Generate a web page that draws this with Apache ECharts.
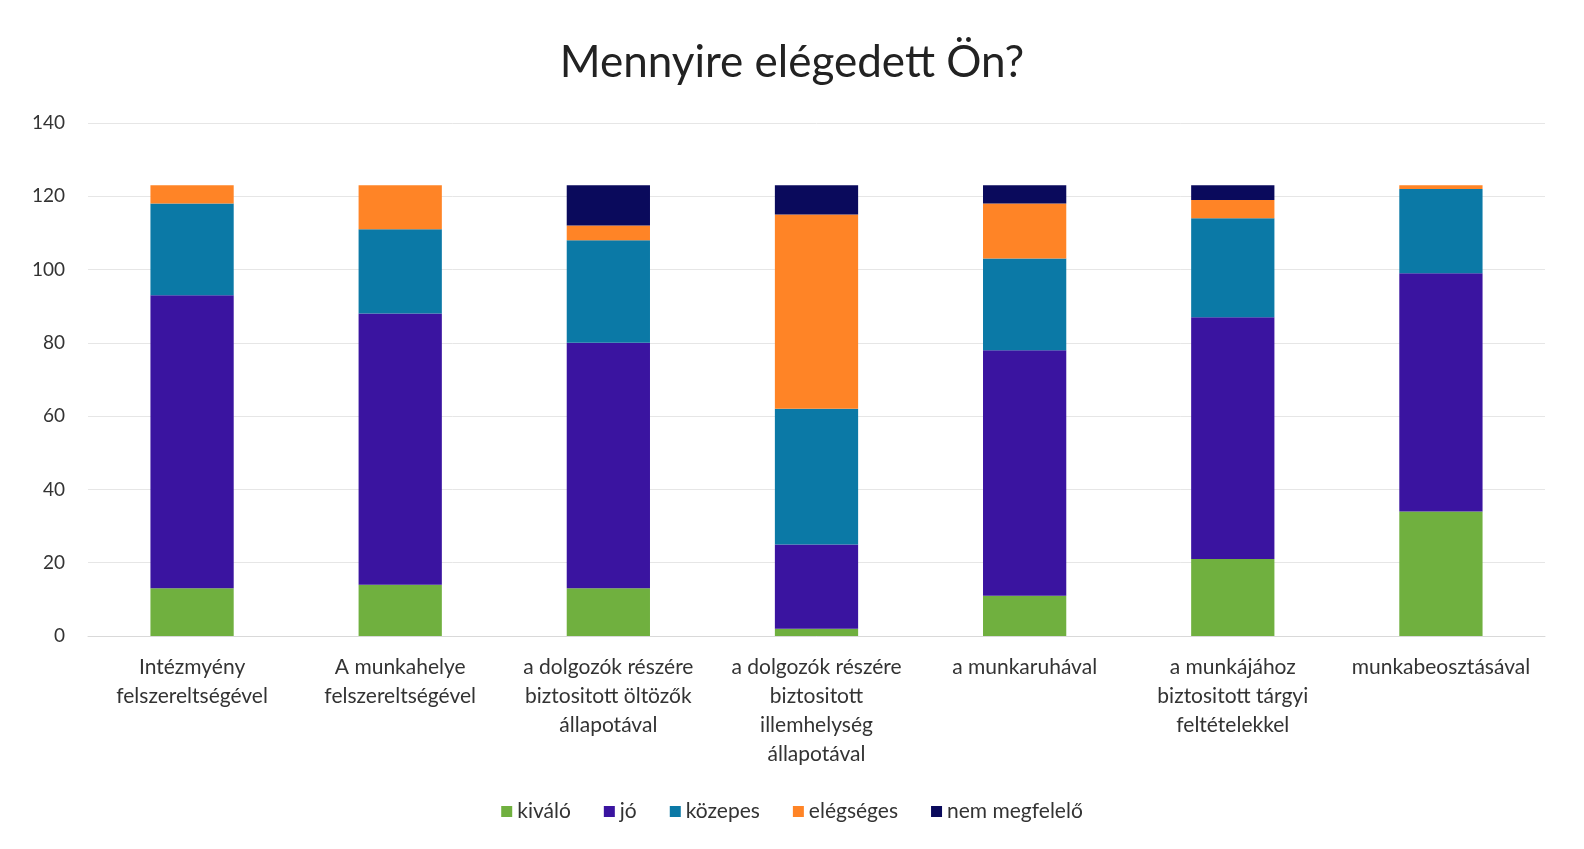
<!DOCTYPE html>
<html>
<head>
<meta charset="utf-8">
<script src="https://cdn.jsdelivr.net/npm/echarts@6/dist/echarts.min.js"></script>
<style>
html,body{margin:0;padding:0;background:#fff;}
#c{width:1584px;height:849px;}
</style>
</head>
<body>
<div id="c"></div>
<script>
const categories = [
  'Intézmyény\nfelszereltségével',
  'A munkahelye\nfelszereltségével',
  'a dolgozók részére\nbiztositott öltözők\nállapotával',
  'a dolgozók részére\nbiztositott\nillemhelység\nállapotával',
  'a munkaruhával',
  'a munkájához\nbiztositott tárgyi\nfeltételekkel',
  'munkabeosztásával'
];
const seriesNames = ['kiváló', 'jó', 'közepes', 'elégséges', 'nem megfelelő'];
const kivalo = [13, 14, 13, 2, 11, 21, 34];
const jo = [80, 74, 67, 23, 67, 66, 65];
const kozepes = [25, 23, 28, 37, 25, 27, 23];
const elegseges = [5, 12, 4, 53, 15, 5, 1];
const nemMegfelelo = [0, 0, 11, 8, 5, 4, 0];
const yTicks = [0, 20, 40, 60, 80, 100, 120, 140];

const colors = ['#70b03f', '#3a14a0', '#0b79a6', '#ff8426', '#0a0a5c'];
const values = [kivalo, jo, kozepes, elegseges, nemMegfelelo];

const chart = echarts.init(document.getElementById('c'));
chart.setOption({
  animation: false,
  backgroundColor: '#fff',
  color: colors,
  title: {
    text: 'Mennyire elégedett Ön?',
    left: 'center',
    top: 36,
    textStyle: {fontFamily: 'Lato', fontSize: 44, fontWeight: 'normal', color: '#222'}
  },
  legend: {
    bottom: 22,
    left: 'center',
    itemWidth: 11,
    itemHeight: 11,
    itemGap: 33,
    icon: 'rect',
    textStyle: {fontFamily: 'Lato', fontSize: 21, color: '#333'},
    data: seriesNames
  },
  grid: {left: 88, right: 39, top: 123, bottom: 213},
  xAxis: {
    type: 'category',
    data: categories,
    axisLine: {lineStyle: {color: '#d9d9d9'}},
    axisTick: {show: false},
    axisLabel: {
      interval: 0,
      fontFamily: 'Lato',
      fontSize: 21,
      lineHeight: 29,
      color: '#333',
      margin: 17
    }
  },
  yAxis: {
    type: 'value',
    min: yTicks[0],
    max: yTicks[yTicks.length - 1],
    interval: 20,
    axisLine: {show: false},
    axisTick: {show: false},
    splitLine: {lineStyle: {color: '#e6e6e6'}},
    axisLabel: {fontFamily: 'Lato', fontSize: 19, color: '#333', margin: 23}
  },
  series: seriesNames.map((n, i) => ({
    name: n,
    type: 'bar',
    stack: 'total',
    barWidth: '40%',
    data: values[i]
  }))
});
</script>
</body>
</html>
